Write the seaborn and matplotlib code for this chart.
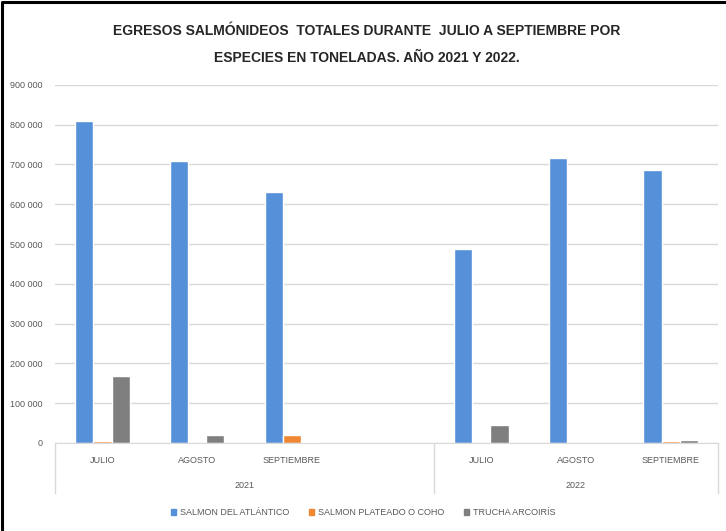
import numpy as np
import pandas as pd
import matplotlib
matplotlib.use("Agg")
import matplotlib.pyplot as plt
import matplotlib.patches as mpatches
import matplotlib.lines as mlines
import matplotlib.transforms as mtransforms
from matplotlib.ticker import FuncFormatter
import seaborn as sns

# Datos (toneladas)
meses = ["JULIO", "AGOSTO", "SEPTIEMBRE"]
anios = ["2021", "2022"]
especies = ["SALMON DEL ATLÁNTICO", "SALMON PLATEADO O COHO", "TRUCHA ARCOIRÍS"]
atlantico_2021 = [809000, 709000, 631000]
coho_2021 = [4000, 0, 20000]
trucha_2021 = [169000, 20000, 3000]
atlantico_2022 = [487000, 716000, 686000]
coho_2022 = [0, 0, 4000]
trucha_2022 = [45000, 0, 7000]
colores = ["#5590D8", "#F08833", "#7F7F7F"]

# orden de las posiciones en el eje x (2021 deja un hueco vacio al final)
orden = ["2021-JULIO", "2021-AGOSTO", "2021-SEPTIEMBRE", "2021-",
         "2022-JULIO", "2022-AGOSTO", "2022-SEPTIEMBRE"]

filas = []
for anio, series in zip(anios, [(atlantico_2021, coho_2021, trucha_2021),
                                (atlantico_2022, coho_2022, trucha_2022)]):
    for esp, vals in zip(especies, series):
        for mes, v in zip(meses, vals):
            filas.append({"pos": f"{anio}-{mes}", "especie": esp, "ton": v})
df = pd.DataFrame(filas)

sns.set_style("white")
plt.rcParams["font.family"] = ["Liberation Sans", "DejaVu Sans"]

fig = plt.figure(figsize=(7.26, 5.31), dpi=100)
ax = fig.add_axes([0.076, 0.166, 0.913, 0.674])

sns.barplot(data=df, x="pos", y="ton", hue="especie", order=orden,
            hue_order=especies, palette=colores, width=0.575, ax=ax,
            saturation=1, errorbar=None, legend=False)

ax.set_ylim(0, 900000)
ax.set_xlim(-0.5, 6.5)
ax.set_yticks(np.arange(0, 900001, 100000))
ax.yaxis.set_major_formatter(FuncFormatter(lambda v, p: f"{int(v):,}".replace(",", " ")))
ax.tick_params(axis="y", labelsize=6.5, colors="#595959", length=0, pad=9)
ax.grid(axis="y", color="#D9D9D9", linewidth=1)
ax.set_axisbelow(True)
for s in ["left", "right", "top"]:
    ax.spines[s].set_visible(False)
ax.spines["bottom"].set_color("#D9D9D9")
ax.set_xlabel("")
ax.set_ylabel("")

# etiquetas de dos niveles
ax.set_xticks([])
trans = mtransforms.blended_transform_factory(ax.transData, ax.transAxes)
etiq = ["JULIO", "AGOSTO", "SEPTIEMBRE", "", "JULIO", "AGOSTO", "SEPTIEMBRE"]
for i, t in enumerate(etiq):
    ax.text(i, -0.048, t, transform=trans, ha="center", va="center",
            fontsize=6.5, color="#595959")
ax.text(1.5, -0.118, "2021", transform=trans, ha="center", va="center",
        fontsize=6.5, color="#595959")
ax.text(5.0, -0.118, "2022", transform=trans, ha="center", va="center",
        fontsize=6.5, color="#595959")
for xb in [-0.5, 3.5, 6.5]:
    ax.plot([xb, xb], [0, -0.14], transform=trans, color="#D9D9D9",
            linewidth=1, clip_on=False)

fig.text(0.505, 0.942, "EGRESOS SALMÓNIDEOS  TOTALES DURANTE  JULIO A SEPTIEMBRE POR",
         ha="center", va="center", fontsize=10, fontweight="bold", color="#262626")
fig.text(0.505, 0.89, "ESPECIES EN TONELADAS. AÑO 2021 Y 2022.",
         ha="center", va="center", fontsize=10, fontweight="bold", color="#262626")

handles = [mpatches.Patch(color=c, label=e) for c, e in zip(colores, especies)]
leg = fig.legend(handles=handles, loc="center", bbox_to_anchor=(0.5, 0.034),
                 ncol=3, frameon=False, fontsize=6.5, handlelength=0.6,
                 handleheight=0.6, handletextpad=0.4, columnspacing=2.2)
for t in leg.get_texts():
    t.set_color("#595959")

# marco negro (solo izquierda y arriba visibles)
fig.lines.append(mlines.Line2D([0.003, 0.003, 1.0], [0.0, 0.996, 0.996],
                               transform=fig.transFigure, color="black",
                               linewidth=2.2))

fig.savefig("out.png", dpi=100)
